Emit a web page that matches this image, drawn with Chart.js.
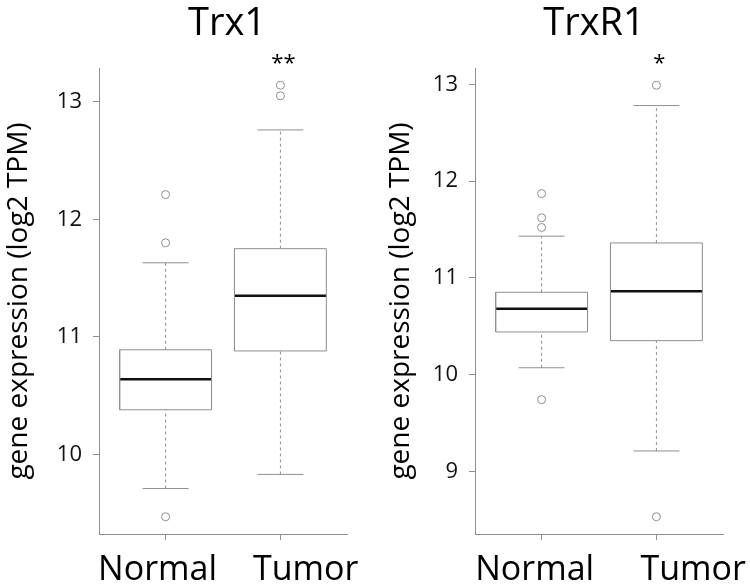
<!DOCTYPE html>
<html><head><meta charset="utf-8">
<script src="https://cdn.jsdelivr.net/npm/chart.js@4/dist/chart.umd.min.js"></script>
<style>
html,body{margin:0;padding:0;background:#fff;}
#wrap{display:flex;width:750px;height:584px;}
canvas{display:block;}
</style></head><body>
<div id="wrap"><canvas id="c1" width="375" height="584"></canvas><canvas id="c2" width="375" height="584"></canvas></div>
<script>
const categories = ['Normal', 'Tumor'];
const panelTitles = ['Trx1', 'TrxR1'];
const significance = ['**', '*'];
// box stats: [lower whisker, Q1, median, Q3, upper whisker]
const trx1Normal = [9.71, 10.38, 10.64, 10.89, 11.63];
const trx1Tumor = [9.83, 10.88, 11.35, 11.75, 12.76];
const trx1NormalOutliers = [12.21, 11.80, 9.47];
const trx1TumorOutliers = [13.14, 13.05];
const trxr1Normal = [10.07, 10.44, 10.68, 10.85, 11.43];
const trxr1Tumor = [9.21, 10.35, 10.86, 11.36, 12.78];
const trxr1NormalOutliers = [11.87, 11.62, 11.52, 9.74];
const trxr1TumorOutliers = [12.99, 8.53];
const yTicksTrx1 = [10, 11, 12, 13];
const yTicksTrxR1 = [9, 10, 11, 12, 13];
const yAxisTitle = 'gene expression (log2 TPM)';

Chart.defaults.font.family = '"Open Sans", "Noto Sans", sans-serif';

const BOXWEX = 0.8, STAPLE = 0.4;
const GRAY = '#8f8f8f';

const annot = {
  id: 'annot',
  afterDraw(chart, args, opts) {
    const {ctx, chartArea, scales} = chart;
    ctx.save();
    ctx.fillStyle = '#000';
    ctx.textAlign = 'center';
    ctx.textBaseline = 'alphabetic';
    ctx.font = '38px "Open Sans"';
    ctx.fillText(opts.title, (chartArea.left + chartArea.right) / 2 + opts.titleShift, 35);
    ctx.font = '22px "Open Sans"';
    ctx.fillText(opts.sig, scales.x.getPixelForValue(2) + 3, 70);
    ctx.font = '34px "Open Sans"';
    categories.forEach((c, i) => {
      ctx.fillText(c, scales.x.getPixelForValue(i + 1 + opts.labelShift[i]), 580);
    });
    ctx.restore();
  }
};

function makeChart(id, stats, outliers, yTicks, title, sig, axisWidth, padRight, titlePad, labelShift, titleShift) {
  const allVals = stats.flat().concat(outliers.flat());
  const lo = Math.min(...allVals), hi = Math.max(...allVals);
  const ext = (hi - lo) * 0.04;
  const datasets = [];
  stats.forEach((s, i) => {
    const p = i + 1;
    const [wl, q1, med, q3, wh] = s;
    const line = (pts, o) => Object.assign({data: pts, showLine: true, pointRadius: 0, borderColor: GRAY, borderWidth: 1, fill: false}, o || {});
    datasets.push(line([{x: p, y: q3}, {x: p, y: wh}], {borderDash: [3, 3]}));
    datasets.push(line([{x: p, y: wl}, {x: p, y: q1}], {borderDash: [3, 3]}));
    datasets.push(line([{x: p - STAPLE / 2, y: wh}, {x: p + STAPLE / 2, y: wh}]));
    datasets.push(line([{x: p - STAPLE / 2, y: wl}, {x: p + STAPLE / 2, y: wl}]));
    const h = BOXWEX / 2;
    datasets.push(line([{x: p - h, y: q1}, {x: p + h, y: q1}, {x: p + h, y: q3}, {x: p - h, y: q3}, {x: p - h, y: q1}]));
    datasets.push(line([{x: p - h, y: med}, {x: p + h, y: med}], {borderColor: '#111', borderWidth: 2.5}));
    datasets.push({data: outliers[i].map(v => ({x: p, y: v})), showLine: false, pointRadius: 4, pointStyle: 'circle',
      borderColor: GRAY, backgroundColor: 'rgba(0,0,0,0)', borderWidth: 1});
  });
  return new Chart(document.getElementById(id), {
    type: 'scatter',
    data: {datasets},
    plugins: [annot],
    options: {
      responsive: false, animation: false, events: [],
      layout: {padding: {top: 68, left: 0, right: padRight, bottom: 0}},
      plugins: {legend: {display: false}, tooltip: {enabled: false}, title: {display: false},
        annot: {title, sig, labelShift, titleShift}},
      scales: {
        x: {
          type: 'linear', min: 0.42, max: 2.58,
          afterBuildTicks: sc => { sc.ticks = categories.map((c, i) => ({value: i + 1})); },
          afterFit: sc => { sc.height = 50; },
          ticks: {display: false},
          grid: {display: true, drawOnChartArea: false, drawTicks: true, tickLength: 6, color: GRAY},
          border: {display: true, color: GRAY, width: 1}
        },
        y: {
          type: 'linear', min: lo - ext, max: hi + ext,
          afterBuildTicks: sc => { sc.ticks = yTicks.map(v => ({value: v})); },
          afterFit: sc => { sc.width = axisWidth; },
          ticks: {font: {size: 22}, color: '#111', padding: 11},
          title: {display: true, text: yAxisTitle, font: {size: 28}, color: '#000', padding: {top: titlePad, bottom: 0}},
          grid: {display: true, drawOnChartArea: false, drawTicks: true, tickLength: 6, color: GRAY},
          border: {display: true, color: GRAY, width: 1}
        }
      }
    }
  });
}

makeChart('c1', [trx1Normal, trx1Tumor], [trx1NormalOutliers, trx1TumorOutliers], yTicksTrx1, panelTitles[0], significance[0], 99, 28, 2, [-0.07, 0.22], 4);
makeChart('c2', [trxr1Normal, trxr1Tumor], [trxr1NormalOutliers, trxr1TumorOutliers], yTicksTrxR1, panelTitles[1], significance[1], 100, 27, 9, [-0.06, 0.32], -5);
</script>
</body></html>
